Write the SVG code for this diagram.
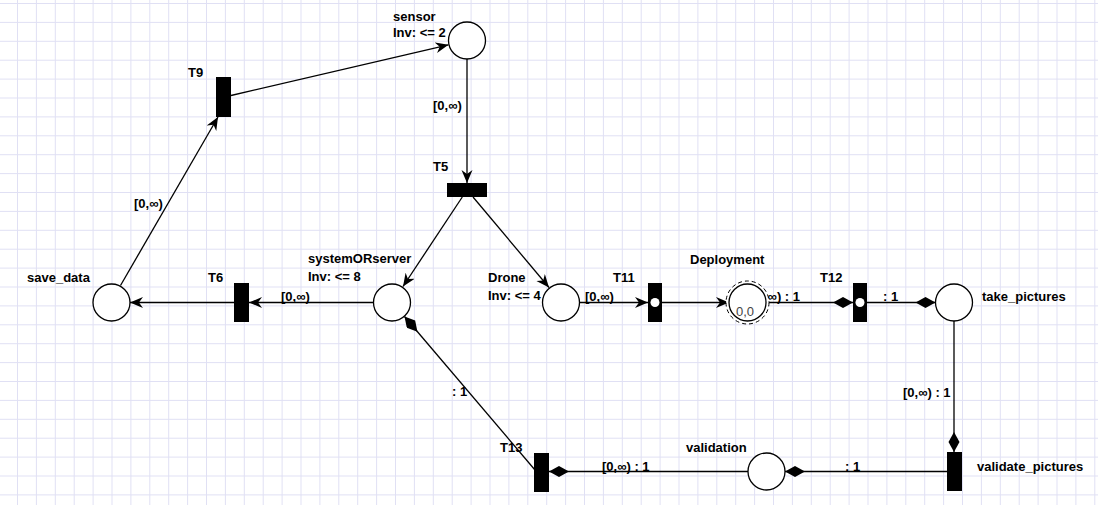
<svg xmlns="http://www.w3.org/2000/svg" width="1098" height="505" viewBox="0 0 1098 505">
<defs>
<pattern id="grid" patternUnits="userSpaceOnUse" x="17" y="3" width="18.9" height="18.9">
<path d="M0.5,0 V18.9 M0,0.5 H18.9" fill="none" stroke="#e0e0f4" stroke-width="1"/>
</pattern>
<marker id="arrow" markerUnits="userSpaceOnUse" markerWidth="15" markerHeight="12" refX="13" refY="5.5" orient="auto">
<path d="M0,0 L13,5.5 L0,11 L4,5.5 Z" fill="#000"/>
</marker>
<marker id="diamond" markerUnits="userSpaceOnUse" markerWidth="22" markerHeight="12" refX="20" refY="5.5" orient="auto">
<path d="M0,5.5 L10,0 L20,5.5 L10,11 Z" fill="#000"/>
</marker>
<style>
.arc{fill:none;stroke:#000;stroke-width:1.3}
.a{marker-end:url(#arrow)}
.d{marker-end:url(#diamond)}
.place{fill:#fff;stroke:#000;stroke-width:1.3}
.trans{fill:#000}
.dot{fill:#fff}
.lbl{font-family:"Liberation Sans",Arial,sans-serif;font-weight:bold;font-size:13px;fill:#000}
.tok{font-family:"Liberation Sans",Arial,sans-serif;font-size:13px;fill:#444}
</style>
</defs>
<rect x="0" y="0" width="1098" height="505" fill="#fff"/>
<rect x="0" y="0" width="1098" height="505" fill="url(#grid)"/>

<g id="connectors">
<line class="arc a" x1="231" y1="95.5" x2="448.5" y2="44.8"/>
<line class="arc a" x1="467" y1="59" x2="467" y2="183"/>
<line class="arc a" x1="462.3" y1="197" x2="403" y2="286.5"/>
<line class="arc a" x1="473" y1="197" x2="549" y2="287.5"/>
<line class="arc a" x1="373.5" y1="302.5" x2="249" y2="302.5"/>
<line class="arc a" x1="234" y1="302.5" x2="130" y2="302.5"/>
<line class="arc a" x1="120.5" y1="285.5" x2="218" y2="117"/>
<line class="arc a" x1="579.5" y1="302.5" x2="648" y2="302.5"/>
<line class="arc a" x1="662" y1="302.5" x2="729" y2="302.5"/>
<line class="arc d" x1="766" y1="302.5" x2="853" y2="302.5"/>
<line class="arc d" x1="867" y1="302.5" x2="935.5" y2="302.5"/>
<line class="arc d" x1="954" y1="320.5" x2="954" y2="452"/>
<line class="arc d" x1="947" y1="471.5" x2="785" y2="471.5"/>
<line class="arc d" x1="748" y1="471.5" x2="549" y2="471.5"/>
<line class="arc d" x1="535" y1="470" x2="404.5" y2="316.5"/>
<text class="lbl" x="433" y="110">[0,∞)</text>
<text class="lbl" x="134" y="208">[0,∞)</text>
<text class="lbl" x="281" y="301">[0,∞)</text>
<text class="lbl" x="585" y="301">[0,∞)</text>
<text class="lbl" x="800" y="301" text-anchor="end">[0,∞) : 1</text>
<text class="lbl" x="883" y="301">: 1</text>
<text class="lbl" x="903" y="397">[0,∞) : 1</text>
<text class="lbl" x="845" y="471">: 1</text>
<text class="lbl" x="602" y="471">[0,∞) : 1</text>
<text class="lbl" x="452" y="396">: 1</text>
</g>

<g id="sensor">
<circle class="place" cx="467" cy="40.5" r="18.5"/>
<text class="lbl" x="393" y="21">sensor</text>
<text class="lbl" x="393" y="37">Inv: &lt;= 2</text>
</g>
<g id="save_data">
<circle class="place" cx="111.5" cy="302.5" r="18.5"/>
<text class="lbl" x="27" y="282">save_data</text>
</g>
<g id="systemORserver">
<circle class="place" cx="392" cy="302.5" r="18.5"/>
<text class="lbl" x="308" y="263">systemORserver</text>
<text class="lbl" x="308" y="281">Inv: &lt;= 8</text>
</g>
<g id="Drone">
<circle class="place" cx="561" cy="302.5" r="18.5"/>
<text class="lbl" x="488" y="282">Drone</text>
<text class="lbl" x="488" y="300">Inv: &lt;= 4</text>
</g>
<g id="Deployment">
<circle cx="747.5" cy="302.5" r="21.5" fill="#fff" stroke="#000" stroke-width="1" stroke-dasharray="4,3"/>
<circle class="place" cx="747.5" cy="302.5" r="18.5"/>
<text class="tok" x="736" y="316">0,0</text>
<text class="lbl" x="690" y="264">Deployment</text>
</g>
<g id="take_pictures">
<circle class="place" cx="954" cy="302.5" r="18.5"/>
<text class="lbl" x="982" y="301">take_pictures</text>
</g>
<g id="validation">
<circle class="place" cx="766.5" cy="471.5" r="18.5"/>
<text class="lbl" x="686" y="452">validation</text>
</g>
<g id="T9">
<rect class="trans" x="216" y="77" width="15" height="40"/>
<text class="lbl" x="188" y="77">T9</text>
</g>
<g id="T5">
<rect class="trans" x="447" y="183" width="40" height="14"/>
<text class="lbl" x="433" y="171">T5</text>
</g>
<g id="T6">
<rect class="trans" x="234" y="283" width="15" height="39"/>
<text class="lbl" x="208" y="282">T6</text>
</g>
<g id="T11">
<rect class="trans" x="648" y="283" width="14" height="39"/>
<circle class="dot" cx="655" cy="302.5" r="4.5"/>
<text class="lbl" x="613" y="282">T11</text>
</g>
<g id="T12">
<rect class="trans" x="853" y="283" width="14" height="39"/>
<circle class="dot" cx="860" cy="302.5" r="4.5"/>
<text class="lbl" x="820" y="282">T12</text>
</g>
<g id="T13">
<rect class="trans" x="534" y="453" width="15" height="39"/>
<text class="lbl" x="500" y="452">T13</text>
</g>
<g id="validate_pictures">
<rect class="trans" x="947" y="452" width="15" height="39"/>
<text class="lbl" x="977" y="471">validate_pictures</text>
</g>
</svg>
